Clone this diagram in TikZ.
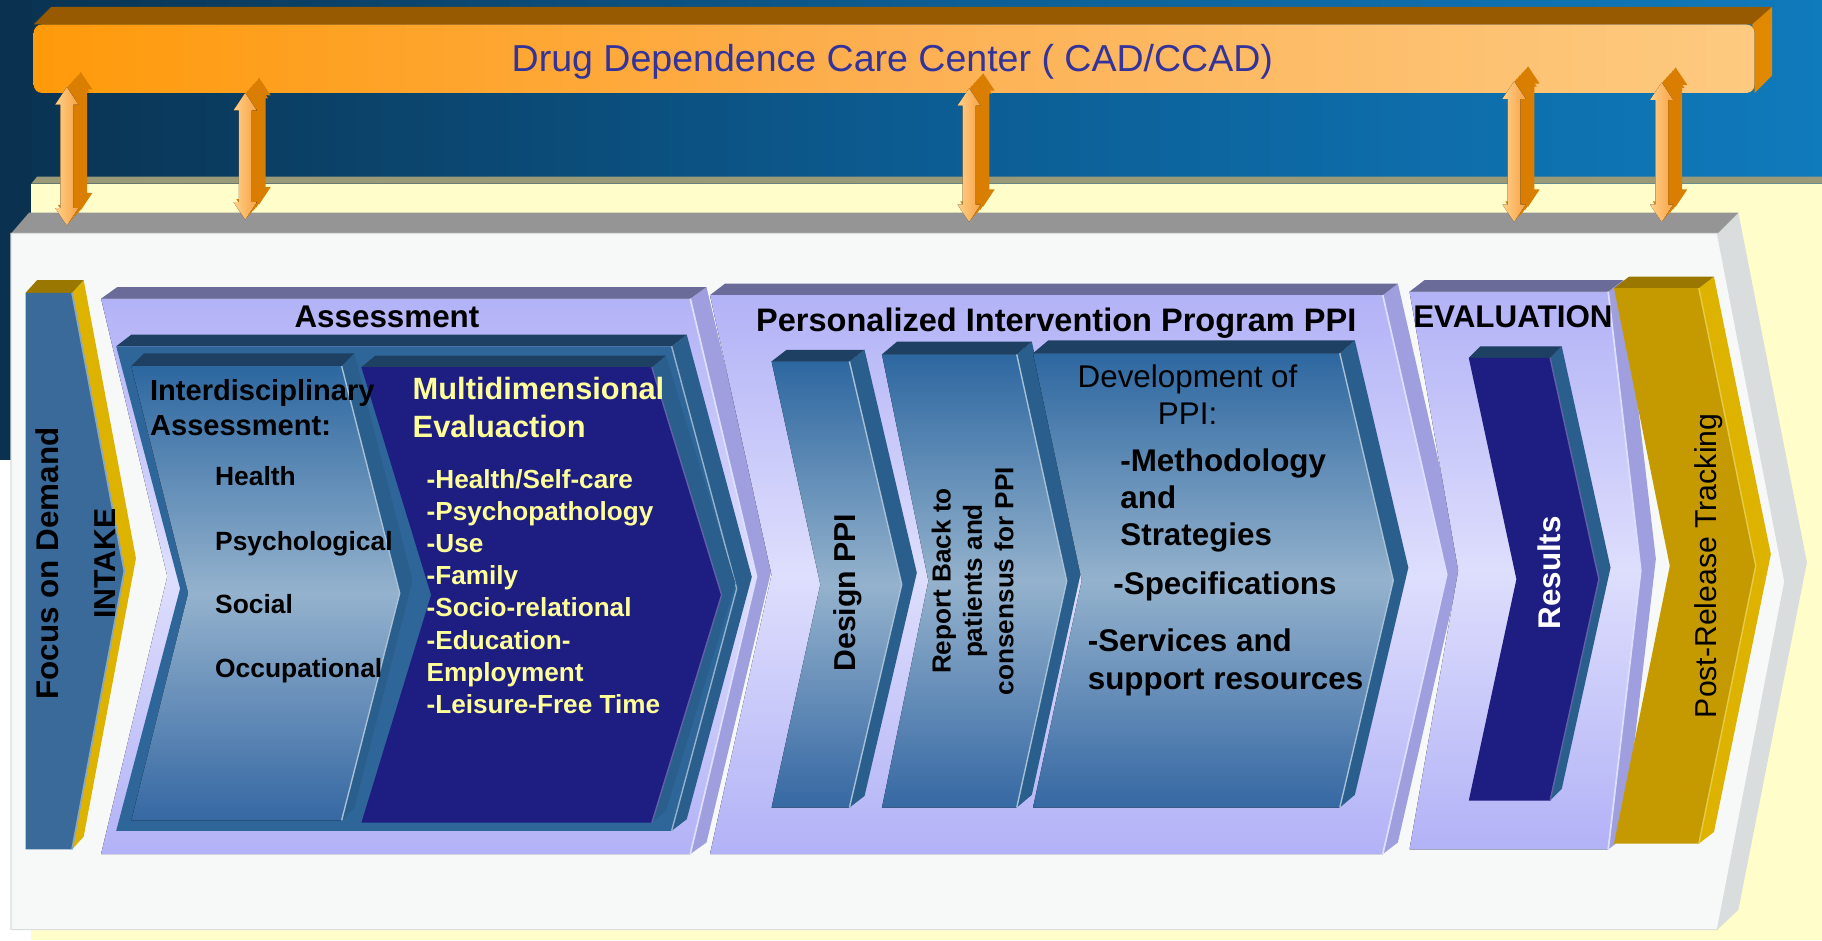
\documentclass[tikz,border=0pt]{standalone}
\usepackage{fontspec}
\setmainfont{Liberation Sans}
\definecolor{hdrL}{HTML}{0A3250}
\definecolor{hdrM}{HTML}{0C5C92}
\definecolor{hdrR}{HTML}{0F7ABC}
\definecolor{bgl}{HTML}{FFFFFF}
\definecolor{cream}{HTML}{FFFDCA}
\definecolor{creamtop}{HTML}{9A9A78}
\definecolor{boxtop}{HTML}{959595}
\definecolor{boxfront}{HTML}{F7F9F9}
\definecolor{boxside}{HTML}{DADDDD}
\definecolor{barL}{HTML}{FF9A0A}
\definecolor{barM}{HTML}{FDB052}
\definecolor{barR}{HTML}{FDCA80}
\definecolor{bartop}{HTML}{985A00}
\definecolor{barside}{HTML}{E08800}
\definecolor{titleblue}{HTML}{333399}
\definecolor{arrL}{HTML}{FFD089}
\definecolor{arrR}{HTML}{F8A244}
\definecolor{arrdark}{HTML}{D97E00}
\definecolor{intakeC}{HTML}{3A6A9A}
\definecolor{goldT}{HTML}{9A7800}
\definecolor{goldS}{HTML}{DDB300}
\definecolor{goldC}{HTML}{C59A00}
\definecolor{lavA}{HTML}{B2B2F7}
\definecolor{lavB}{HTML}{DEDEFD}
\definecolor{lavT}{HTML}{6B6B99}
\definecolor{lavS}{HTML}{9F9FE0}
\definecolor{steelC}{HTML}{2F6699}
\definecolor{steelT}{HTML}{1E4062}
\definecolor{steelS}{HTML}{2A5E8C}
\definecolor{gradA}{HTML}{2D67A0}
\definecolor{gradB}{HTML}{94B2CD}
\definecolor{gradC}{HTML}{3668A3}
\definecolor{navyC}{HTML}{1E1E82}
\definecolor{yel}{HTML}{FFFF99}
\tikzset{
 intakefront/.style={fill=intakeC}, intaketop/.style={fill=goldT}, intakeside/.style={fill=goldS}, intakeedge/.style={draw=intakeC!60!white, line width=1.5},
 lavfront/.style={top color=lavA, bottom color=lavA, middle color=lavB}, lavtop/.style={fill=lavT}, lavside/.style={fill=lavS}, lavedge/.style={draw=lavB, line width=1.5},
 grpfront/.style={fill=steelC}, grptop/.style={fill=steelT}, grpside/.style={fill=steelS}, grpedge/.style={draw=steelC!50!white, line width=1.2},
 gradfront/.style={top color=gradA, bottom color=gradC, middle color=gradB}, gradtop/.style={fill=steelT}, gradside/.style={fill=steelS}, gradedge/.style={draw=gradB!80!white, line width=1.2},
 navyfront/.style={fill=navyC}, navytop/.style={fill=steelT}, navyside/.style={fill=steelS}, navyedge/.style={draw=navyC!70!white, line width=1.2},
 goldfront/.style={fill=goldC}, goldtop/.style={fill=goldT}, goldside/.style={fill=goldS}, goldedge/.style={draw=goldS!70!white, line width=1.2},
 arrfront/.style={left color=arrL, right color=arrR},
 arrside/.style={fill=arrdark},
 fz/.style={inner sep=0pt, font=\fontsize{#1}{#1}\selectfont, text height={0.72pt*#1}, text depth=0pt},
 bfz/.style={inner sep=0pt, font=\bfseries\fontsize{#1}{#1}\selectfont, text height={0.72pt*#1}, text depth=0pt},
}
\newcommand\mychev[9]{%
 \pgfmathsetmacro\chM{(#2+#4)/2}%
 \fill[#9side] (#3,#2) -- (#3+#7,#2-#8) -- (#3+#6+#7,\chM-#8) -- (#3+#7,#4-#8) -- (#3,#4) -- (#3+#6,\chM) -- cycle;
 \fill[#9top] (#1,#2) -- (#1+#7,#2-#8) -- (#3+#7,#2-#8) -- (#3,#2) -- cycle;
 \fill[#9front] (#1,#2) -- (#3,#2) -- (#3+#6,\chM) -- (#3,#4) -- (#1,#4) -- (#1+#5,\chM) -- cycle;
 \draw[#9edge] (#3,#2) -- (#3+#6,\chM) -- (#3,#4);
}
\newcommand\arrshape[4]{%
 \fill[#1] (#2,#3) -- (#2+10,#3+15) -- (#2+5.5,#3+15) -- (#2+5.5,#4-15) -- (#2+10,#4-15) -- (#2,#4) -- (#2-10,#4-15) -- (#2-5.5,#4-15) -- (#2-5.5,#3+15) -- (#2-10,#3+15) -- cycle;}
\newcommand\myarrow[3]{%
 \foreach \k in {1,0.8,0.6,0.4,0.2}{\arrshape{arrside,shift={(12*\k,-13*\k)}}{#1}{#2}{#3}}
 \arrshape{arrfront}{#1}{#2}{#3}}
\begin{document}
\begin{tikzpicture}[x=1pt,y=-1pt]
\useasboundingbox (0,0) rectangle (1568,809);
% background
\fill[bgl] (0,0) rectangle (1568,809);
\fill[left color=hdrL, right color=hdrR, middle color=hdrM] (0,0) rectangle (1568,160);
\fill[hdrL] (0,0) rectangle (27,201);
\fill[hdrL] (0,0) rectangle (9.5,396);
% cream panel
\fill[creamtop] (27,158) -- (32,152) -- (1568,152) -- (1568,158) -- cycle;
\fill[cream] (27,158) rectangle (1568,809);
% white program box
\fill[boxside] (1478,201) -- (1496,183) -- (1555,484) -- (1496,783) -- (1478,800) -- (1536,500.5) -- cycle;
\fill[boxtop] (9.5,201) -- (25,183) -- (1496,183) -- (1478,201) -- cycle;
\filldraw[fill=boxfront, draw=boxside, line width=1] (9.5,201) -- (1478,201) -- (1536,500.5) -- (1478,800) -- (9.5,800) -- cycle;
% top bar
\fill[bartop] (29,21) -- (44,6) -- (1525,6) -- (1510,21) -- cycle;
\fill[barside] (1508,21) -- (1525,6) -- (1525,65) -- (1510,80) -- cycle;
\fill[rounded corners=7, left color=barL, right color=barR, middle color=barM] (29,21) rectangle (1510,80);
\node[fz=32.3, text=titleblue] (title) at (768,50) {Drug Dependence Care Center ( CAD/CCAD)};
% double arrows between centre and program
\myarrow{57.5}{75}{194}
\myarrow{211}{80}{189}
\myarrow{834}{76}{191}
\myarrow{1303}{70}{191}
\myarrow{1430}{71}{191}
% stages
\mychev{22}{252}{62}{731}{0}{45}{10}{11}{intake}
\mychev{87}{257}{594}{735}{57}{57}{14}{10}{lav}
\mychev{100}{298}{578}{715}{55}{56}{13}{10}{grp}
\mychev{113}{315}{294}{706}{49}{50}{11}{11}{grad}
\mychev{311}{316}{561}{708}{60}{60}{12}{10}{navy}
\mychev{611}{254}{1190}{735}{53}{55}{13}{10}{lav}
\mychev{664}{311}{731}{695}{42}{45}{13}{10}{grad}
\mychev{759}{305}{875}{695}{40}{43}{13}{11}{grad}
\mychev{889}{304}{1153}{695}{42}{46}{13}{11}{grad}
\mychev{1213}{251}{1384}{731}{42}{28}{13}{10}{lav}
\mychev{1264}{308}{1334}{689}{41}{42}{10}{10}{navy}
\mychev{1389}{248}{1462}{726}{48}{49}{13}{10}{gold}
% texts
\node[bfz=27, rotate=90] (focus) at (41,485) {Focus on Demand};
\node[bfz=26, rotate=90] (intake) at (90,485) {INTAKE};
\node[bfz=27] (assess) at (333,272) {Assessment};
\node[bfz=28] (ppi) at (909,275) {Personalized Intervention Program PPI};
\node[bfz=27] (evalh) at (1302,272) {EVALUATION};
\begin{scope}[every node/.style={bfz=25, anchor=west}]
\node (inter1) at (129,336) {Interdisciplinary};
\node (inter2) at (129,366) {Assessment:};
\end{scope}
\begin{scope}[every node/.style={bfz=22.7, anchor=west}]
\node (health) at (185,410) {Health};
\node (psych) at (185,466) {Psychological};
\node (social) at (185,520) {Social};
\node (occup) at (185,575) {Occupational};
\end{scope}
\begin{scope}[every node/.style={bfz=26.5, anchor=west, text=yel}]
\node (multi1) at (355,334) {Multidimensional};
\node (multi2) at (355,367) {Evaluaction};
\end{scope}
\begin{scope}[every node/.style={bfz=22.5, anchor=west, text=yel}]
\node (m1) at (367,412) {-Health/Self-care};
\node (m2) at (367,439.7) {-Psychopathology};
\node (m3) at (367,467.4) {-Use};
\node (m4) at (367,495.1) {-Family};
\node (m5) at (367,522.8) {-Socio-relational};
\node (m6) at (367,550.5) {-Education-};
\node (m7) at (367,578.2) {Employment};
\node (m8) at (367,605.9) {-Leisure-Free Time};
\end{scope}
\node[bfz=26, rotate=90] (design) at (727,510) {Design PPI};
\node[rotate=90, inner sep=0pt, align=center, font=\bfseries\fontsize{22.5}{27}\selectfont] (report) at (837,500) {Report Back to\\patients and\\consensus for PPI};
\node[fz=27] (dev1) at (1022,324) {Development of};
\node[fz=27] (dev2) at (1022,356) {PPI:};
\begin{scope}[every node/.style={bfz=27, anchor=west}]
\node (d1) at (964,396) {-Methodology};
\node (d2) at (964,428) {and};
\node (d3) at (964,460) {Strategies};
\node (d4) at (958,502) {-Specifications};
\node (d5) at (936,551) {-Services and};
\node (d6) at (936,584) {support resources};
\end{scope}
\node[bfz=27, rotate=90, text=white] (results) at (1333,493) {Results};
\node[fz=26, rotate=90] (post) at (1468,487) {Post-Release Tracking};
\end{tikzpicture}
\end{document}
